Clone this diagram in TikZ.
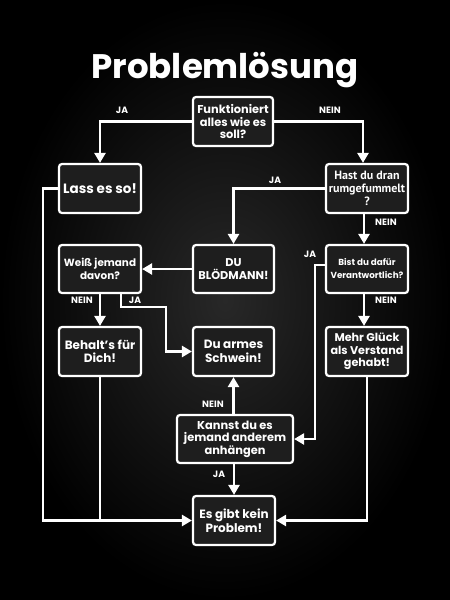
\documentclass[tikz,border=0pt]{standalone}
\usepackage{fontspec}
\setmainfont{Poppins}
\newfontfamily\narrowfont{PT Sans}
\usetikzlibrary{arrows.meta}
\definecolor{boxfill}{RGB}{30,30,30}
\begin{document}
\begin{tikzpicture}[x=1pt,y=-1pt,
  box/.style={draw=white, line width=2.2pt, fill=boxfill, rounded corners=3pt,
    text=white, align=center, inner sep=0pt, font=\bfseries\fontsize{11.4}{12.5}\selectfont},
  arr/.style={draw=white, line width=2.4pt, -{Triangle[length=10pt,width=11pt]}},
  ln/.style={draw=white, line width=2.4pt},
  lbl/.style={text=white, font=\bfseries\fontsize{9.2}{10}\selectfont, inner sep=0pt}]
\shade[inner color={rgb,255:red,40;green,40;blue,40}, outer color=black] (0,0) rectangle (450,600);
\useasboundingbox (0,0) rectangle (450,600);
\node[text=white, font=\bfseries\fontsize{34}{38}\selectfont] (title) at (225,70) {Problemlösung};
\node[box, minimum width=80pt, minimum height=49pt] (f) at (233,121.5) {Funktioniert\\alles wie es\\soll?};
\node[box, minimum width=82pt, minimum height=49pt, font=\bfseries\fontsize{13.5}{14}\selectfont] (lass) at (100,188.5) {Lass es so!};
\node[box, minimum width=82pt, minimum height=49pt, font=\narrowfont\bfseries\fontsize{12}{13}\selectfont] (hast) at (367,188.5) {Hast du dran\\rumgefummelt\\?};
\node[box, minimum width=81pt, minimum height=48pt, font=\bfseries\fontsize{11.3}{13}\selectfont] (du) at (233.5,269) {DU\\BLÖDMANN!};
\node[box, minimum width=82pt, minimum height=48pt, font=\bfseries\fontsize{10.4}{13}\selectfont] (weiss) at (100,269) {Weiß jemand\\davon?};
\node[box, minimum width=82pt, minimum height=48pt, font=\bfseries\fontsize{8.8}{13}\selectfont] (bist) at (367,269) {Bist du dafür\\Verantwortlich?};
\node[box, minimum width=82pt, minimum height=49pt, font=\bfseries\fontsize{12}{13.5}\selectfont] (behalt) at (100,351.5) {Behalt’s für\\Dich!};
\node[box, minimum width=81pt, minimum height=49pt, font=\bfseries\fontsize{12}{13.5}\selectfont] (armes) at (233.5,351.5) {Du armes\\Schwein!};
\node[box, minimum width=82pt, minimum height=49pt, font=\bfseries\fontsize{11.2}{12.3}\selectfont] (mehr) at (367,351.5) {Mehr Glück\\als Verstand\\gehabt!};
\node[box, minimum width=116pt, minimum height=48pt, font=\bfseries\fontsize{11.4}{12.5}\selectfont] (kannst) at (235,439) {Kannst du es\\jemand anderem\\anhängen};
\node[box, minimum width=82pt, minimum height=49pt, font=\bfseries\fontsize{12}{13.5}\selectfont] (es) at (234,520.5) {Es gibt kein\\Problem!};
\coordinate (j1) at (166,307);
\coordinate (bj) at (315,265);
\coordinate (lb) at (43,520.5);
\draw[arr] (f.west) -| (lass.north);
\draw[arr] (f.east) -| ([xshift=-4pt]hast.north);
\draw[arr] (hast.west) -| (du.north);
\draw[arr] ([xshift=-3pt]hast.south) -- ([xshift=-3pt]bist.north);
\draw[arr] (du.west) -- (weiss.east);
\draw[arr] (weiss.south) -- (behalt.north);
\draw[arr] ([xshift=21pt]weiss.south) |- (j1) |- (armes.west);
\draw[arr] (bist.west |- bj) -- (bj) |- (kannst.east);
\draw[arr] ([xshift=-3pt]bist.south) -- ([xshift=-3pt]mehr.north);
\draw[arr] (armes.south |- kannst.north) -- (armes.south);
\draw[arr] (es.north |- kannst.south) -- (es.north);
\draw[arr] (lass.west) -| (lb) -- (es.west);
\draw[ln] (behalt.south) -- (behalt.south |- lb);
\draw[arr] (mehr.south) |- (es.east);
\node[lbl] (l1) at (122,110) {JA};
\node[lbl] (l2) at (330,110) {NEIN};
\node[lbl] (l3) at (275,180) {JA};
\node[lbl] (l4) at (386,222) {NEIN};
\node[lbl] (l5) at (82,300) {NEIN};
\node[lbl] (l6) at (135,300) {JA};
\node[lbl] (l7) at (310,254) {JA};
\node[lbl] (l8) at (386,300) {NEIN};
\node[lbl] (l9) at (213,404) {NEIN};
\node[lbl] (l10) at (219,474) {JA};
\end{tikzpicture}
\end{document}
